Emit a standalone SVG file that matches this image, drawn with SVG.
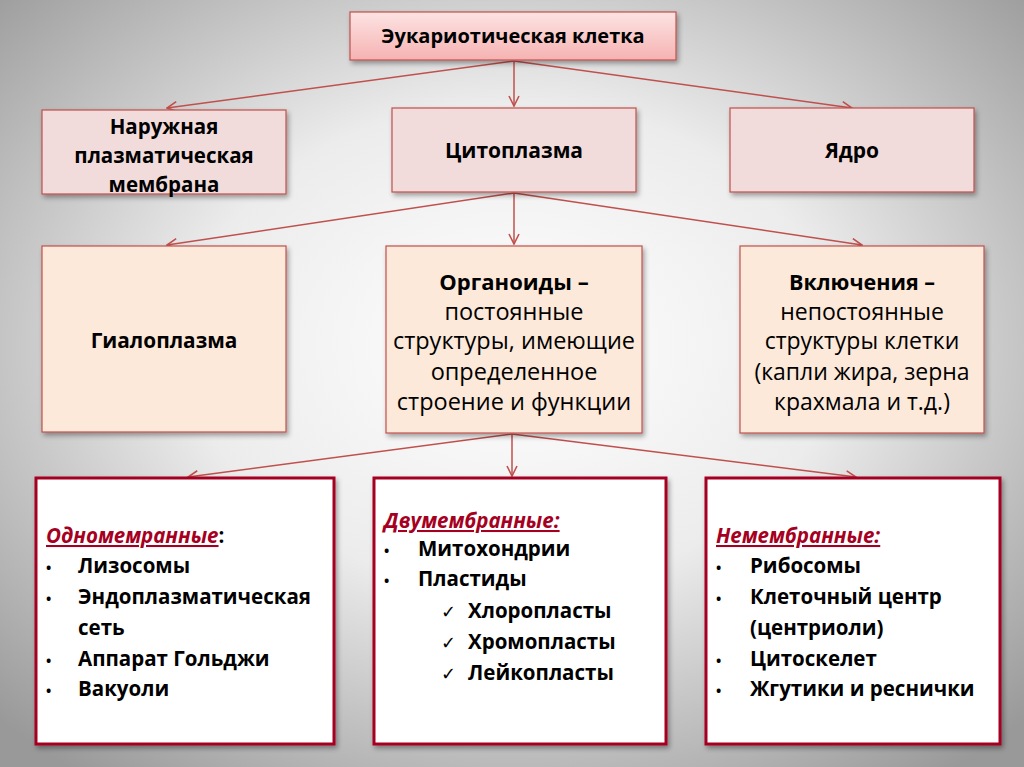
<svg xmlns="http://www.w3.org/2000/svg" width="1024" height="767" viewBox="0 0 1024 767">
<defs>
<radialGradient id="bg" cx="50%" cy="45%" r="70%">
<stop offset="0" stop-color="#ffffff"/>
<stop offset="0.45" stop-color="#ececec"/>
<stop offset="1" stop-color="#999999"/>
</radialGradient>
<linearGradient id="topg" x1="0" y1="0" x2="0" y2="1">
<stop offset="0" stop-color="#fde3e3"/>
<stop offset="1" stop-color="#f5b3b2"/>
</linearGradient>
<filter id="sh" x="-10%" y="-10%" width="125%" height="130%">
<feDropShadow dx="2" dy="3" stdDeviation="2.5" flood-color="#000" flood-opacity="0.35"/>
</filter>
<marker id="ar" viewBox="0 0 12 12" refX="11" refY="6" markerWidth="12" markerHeight="12" markerUnits="userSpaceOnUse" orient="auto">
<path d="M1,1 L11,6 L1,11" fill="none" stroke="#c0504d" stroke-width="1.6"/>
</marker>
</defs>
<style>
.t{font-family:"Open Sans","Noto Sans",sans-serif;fill:#000;text-anchor:middle}
.b{font-weight:bold}
.r2{fill:#f2dcdb;stroke:#c0504d;stroke-width:1.2}
.r3{fill:#fde9d9;stroke:#c0504d;stroke-width:1.2}
.r4{fill:#ffffff;stroke:#a50021;stroke-width:3}
.l{font-family:"Open Sans","Noto Sans",sans-serif;font-size:20.5px;font-weight:bold;fill:#000}
.h{font-style:italic;fill:#a50021;text-decoration:underline}
.d{font-size:14px}
.k{font-weight:normal;font-size:18px}
.c{stroke:#c0504d;stroke-width:1.5;fill:none}
</style>
<rect width="1024" height="767" fill="url(#bg)"/>
<g id="connectors">
<line class="c" x1="514" y1="61" x2="167" y2="108" marker-end="url(#ar)"/>
<line class="c" x1="514" y1="61" x2="514" y2="106" marker-end="url(#ar)"/>
<line class="c" x1="514" y1="61" x2="852" y2="108" marker-end="url(#ar)"/>
<line class="c" x1="514" y1="193" x2="167" y2="245" marker-end="url(#ar)"/>
<line class="c" x1="514" y1="193" x2="514" y2="244" marker-end="url(#ar)"/>
<line class="c" x1="514" y1="193" x2="862" y2="245" marker-end="url(#ar)"/>
<line class="c" x1="512" y1="434" x2="188" y2="477" marker-end="url(#ar)"/>
<line class="c" x1="512" y1="434" x2="512" y2="476" marker-end="url(#ar)"/>
<line class="c" x1="512" y1="434" x2="856" y2="477" marker-end="url(#ar)"/>
</g>
<g id="eukaryote">
<rect x="350" y="12" width="326" height="48" fill="url(#topg)" stroke="#c0504d" stroke-width="1.2" filter="url(#sh)"/>
<text class="t b" x="513" y="43" font-size="20">Эукариотическая клетка</text>
</g>
<g id="membrane">
<rect class="r2" x="42" y="110" width="244" height="84" filter="url(#sh)"/>
<text class="t b" x="164" y="134" font-size="20.5">Наружная</text>
<text class="t b" x="164" y="163" font-size="20.5">плазматическая</text>
<text class="t b" x="164" y="192" font-size="20.5">мембрана</text>
</g>
<g id="cytoplasm">
<rect class="r2" x="392" y="108" width="244" height="84" filter="url(#sh)"/>
<text class="t b" x="514" y="158" font-size="21">Цитоплазма</text>
</g>
<g id="nucleus">
<rect class="r2" x="730" y="108" width="244" height="84" filter="url(#sh)"/>
<text class="t b" x="852" y="158" font-size="21">Ядро</text>
</g>
<g id="hyaloplasm">
<rect class="r3" x="42" y="246" width="244" height="186" filter="url(#sh)"/>
<text class="t b" x="164" y="348" font-size="20.8">Гиалоплазма</text>
</g>
<g id="organoids">
<rect class="r3" x="386" y="246" width="256" height="187" filter="url(#sh)"/>
<text class="t b" x="514" y="290" font-size="22">Органоиды –</text>
<text class="t" x="514" y="320" font-size="23.5">постоянные</text>
<text class="t" x="514" y="349" font-size="23.5">структуры, имеющие</text>
<text class="t" x="514" y="380" font-size="23.5">определенное</text>
<text class="t" x="514" y="410" font-size="23.5">строение и функции</text>
</g>
<g id="inclusions">
<rect class="r3" x="740" y="246" width="244" height="187" filter="url(#sh)"/>
<text class="t b" x="862" y="290" font-size="21.5">Включения –</text>
<text class="t" x="862" y="320" font-size="23">непостоянные</text>
<text class="t" x="862" y="349" font-size="23">структуры клетки</text>
<text class="t" x="862" y="380" font-size="23">(капли жира, зерна</text>
<text class="t" x="862" y="410" font-size="23">крахмала и т.д.)</text>
</g>
<g id="single-membrane">
<rect class="r4" x="36" y="478" width="298" height="266" filter="url(#sh)"/>
<text class="l" x="46" y="543"><tspan class="h">Одномемранные</tspan>:</text>
<text class="l" x="46" y="573"><tspan class="d">•</tspan><tspan x="78">Лизосомы</tspan></text>
<text class="l" x="46" y="604"><tspan class="d">•</tspan><tspan x="78">Эндоплазматическая</tspan></text>
<text class="l" x="78" y="635">сеть</text>
<text class="l" x="46" y="666"><tspan class="d">•</tspan><tspan x="78">Аппарат Гольджи</tspan></text>
<text class="l" x="46" y="696"><tspan class="d">•</tspan><tspan x="78">Вакуоли</tspan></text>
</g>
<g id="double-membrane">
<rect class="r4" x="374" y="478" width="292" height="266" filter="url(#sh)"/>
<text class="l h" x="384" y="528">Двумембранные:</text>
<text class="l" x="384" y="556"><tspan class="d">•</tspan><tspan x="418">Митохондрии</tspan></text>
<text class="l" x="384" y="586"><tspan class="d">•</tspan><tspan x="418">Пластиды</tspan></text>
<text class="l" x="441" y="618"><tspan class="k">✓</tspan><tspan x="468">Хлоропласты</tspan></text>
<text class="l" x="441" y="649"><tspan class="k">✓</tspan><tspan x="468">Хромопласты</tspan></text>
<text class="l" x="441" y="680"><tspan class="k">✓</tspan><tspan x="468">Лейкопласты</tspan></text>
</g>
<g id="non-membrane">
<rect class="r4" x="706" y="478" width="294" height="266" filter="url(#sh)"/>
<text class="l h" x="716" y="543">Немембранные:</text>
<text class="l" x="716" y="573"><tspan class="d">•</tspan><tspan x="750">Рибосомы</tspan></text>
<text class="l" x="716" y="604"><tspan class="d">•</tspan><tspan x="750">Клеточный центр</tspan></text>
<text class="l" x="750" y="635">(центриоли)</text>
<text class="l" x="716" y="666"><tspan class="d">•</tspan><tspan x="750">Цитоскелет</tspan></text>
<text class="l" x="716" y="696"><tspan class="d">•</tspan><tspan x="750">Жгутики и реснички</tspan></text>
</g>
</svg>
